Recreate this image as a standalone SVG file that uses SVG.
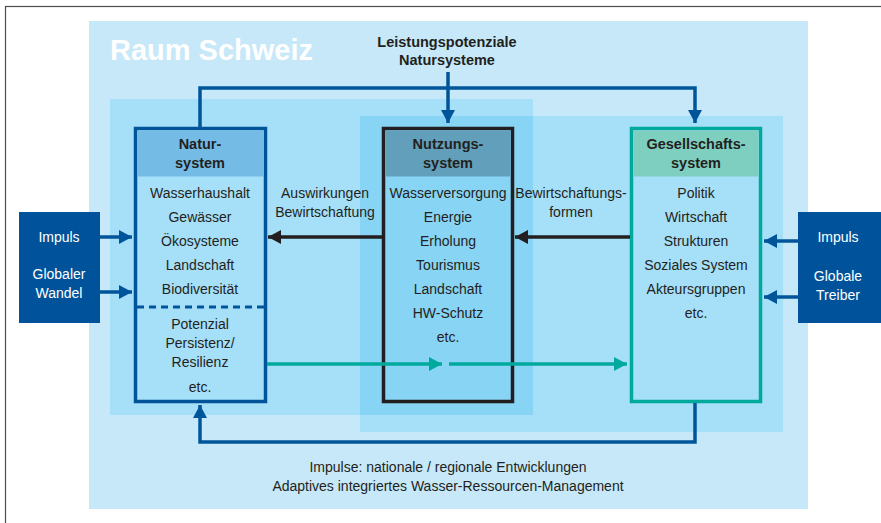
<svg xmlns="http://www.w3.org/2000/svg" width="881" height="523" viewBox="0 0 881 523">
<style>
.t{font-family:"Liberation Sans",Arial,sans-serif;font-size:14px;fill:#231f20;text-anchor:middle}
.h{font-family:"Liberation Sans",Arial,sans-serif;font-size:14.5px;font-weight:bold;fill:#231f20;text-anchor:middle}
.w{font-family:"Liberation Sans",Arial,sans-serif;font-size:14px;fill:#ffffff;text-anchor:middle}
.blue{stroke:#00559a;stroke-width:3.5;fill:none}
.blk{stroke:#231f20;stroke-width:3.5;fill:none}
.teal{stroke:#00a99d;stroke-width:3.5;fill:none}
</style>
<defs>
<marker id="ab" markerUnits="userSpaceOnUse" markerWidth="14" markerHeight="14" refX="13" refY="7" orient="auto"><path d="M0,0 L13,7 L0,14 Z" fill="#00559a"/></marker>
<marker id="ak" markerUnits="userSpaceOnUse" markerWidth="14" markerHeight="14" refX="13" refY="7" orient="auto"><path d="M0,0 L13,7 L0,14 Z" fill="#231f20"/></marker>
<marker id="at" markerUnits="userSpaceOnUse" markerWidth="14" markerHeight="14" refX="13" refY="7" orient="auto"><path d="M0,0 L13,7 L0,14 Z" fill="#00a99d"/></marker>
</defs>
<rect x="0" y="0" width="881" height="523" fill="#ffffff"/>
<rect x="5.5" y="6.5" width="880" height="520" fill="none" stroke="#4d4d4d" stroke-width="1.2"/>
<g id="background">
<rect x="89" y="21" width="719" height="488" fill="#c6e8f8"/>
<rect x="110" y="99" width="423" height="316" fill="#a6dff8"/>
<rect x="360" y="116" width="423" height="316" fill="#a6dff8"/>
<rect x="360" y="116" width="173" height="299" fill="#88d4f5"/>
<text x="110" y="60" font-family="Liberation Sans,Arial,sans-serif" font-size="29" font-weight="bold" fill="#ffffff" textLength="203" lengthAdjust="spacingAndGlyphs">Raum Schweiz</text>
</g>
<g id="label-top">
<text class="h" x="447" y="47">Leistungspotenziale</text>
<text class="h" x="447" y="65">Natursysteme</text>
</g>
<g id="label-bottom">
<text class="t" x="448" y="472">Impulse: nationale / regionale Entwicklungen</text>
<text class="t" x="448" y="491">Adaptives integriertes Wasser-Ressourcen-Management</text>
</g>
<g id="impuls-left">
<rect x="19" y="212" width="81" height="111" fill="#00539a"/>
<text class="w" x="59" y="242">Impuls</text>
<text class="w" x="59" y="279">Globaler</text>
<text class="w" x="59" y="298">Wandel</text>
</g>
<g id="impuls-right">
<rect x="798" y="212" width="83" height="111" fill="#00539a"/>
<text class="w" x="838" y="242">Impuls</text>
<text class="w" x="838" y="281">Globale</text>
<text class="w" x="838" y="300">Treiber</text>
</g>
<g id="natursystem">
<rect x="135.5" y="128.5" width="130" height="273" fill="#a6dff8" stroke="#00559a" stroke-width="3.5"/>
<rect x="137.5" y="130.5" width="126" height="46" fill="#74bce6"/>
<text class="h" x="200" y="149">Natur-</text>
<text class="h" x="200" y="168">system</text>
<text class="t" x="200" y="198">Wasserhaushalt</text>
<text class="t" x="200" y="222">Gewässer</text>
<text class="t" x="200" y="246">Ökosysteme</text>
<text class="t" x="200" y="270">Landschaft</text>
<text class="t" x="200" y="294">Biodiversität</text>
<line x1="137" y1="307" x2="264" y2="307" stroke="#00559a" stroke-width="3" stroke-dasharray="7,5"/>
<text class="t" x="200" y="329">Potenzial</text>
<text class="t" x="200" y="348">Persistenz/</text>
<text class="t" x="200" y="367">Resilienz</text>
<text class="t" x="200" y="392">etc.</text>
</g>
<g id="nutzungssystem">
<rect x="383.5" y="128.5" width="129" height="273" fill="#88d4f5" stroke="#231f20" stroke-width="3.5"/>
<rect x="385.5" y="130.5" width="125" height="46" fill="#629fba"/>
<text class="h" x="448" y="149">Nutzungs-</text>
<text class="h" x="448" y="168">system</text>
<text class="t" x="448" y="198">Wasserversorgung</text>
<text class="t" x="448" y="222">Energie</text>
<text class="t" x="448" y="246">Erholung</text>
<text class="t" x="448" y="270">Tourismus</text>
<text class="t" x="448" y="294">Landschaft</text>
<text class="t" x="448" y="318">HW-Schutz</text>
<text class="t" x="448" y="342">etc.</text>
</g>
<g id="gesellschaftssystem">
<rect x="631.5" y="128.5" width="129" height="273" fill="#a6dff8" stroke="#00a99d" stroke-width="3.5"/>
<rect x="633.5" y="130.5" width="125" height="46" fill="#7ecfc0"/>
<text class="h" x="696" y="149">Gesellschafts-</text>
<text class="h" x="696" y="168">system</text>
<text class="t" x="696" y="198">Politik</text>
<text class="t" x="696" y="222">Wirtschaft</text>
<text class="t" x="696" y="246">Strukturen</text>
<text class="t" x="696" y="270">Soziales System</text>
<text class="t" x="696" y="294">Akteursgruppen</text>
<text class="t" x="696" y="318">etc.</text>
</g>
<g id="connectors">
<polyline class="blue" points="200,127 200,88 695,88 695,123" marker-end="url(#ab)"/>
<line class="blue" x1="448" y1="72" x2="448" y2="123" marker-end="url(#ab)"/>
<polyline class="blue" points="695,403 695,442 200,442 200,405" marker-end="url(#ab)"/>
<line class="blk" x1="382" y1="237" x2="268" y2="237" marker-end="url(#ak)"/>
<line class="blk" x1="630" y1="237" x2="515" y2="237" marker-end="url(#ak)"/>
<line class="teal" x1="267" y1="364" x2="442" y2="364" marker-end="url(#at)"/>
<line class="teal" x1="449" y1="364" x2="627" y2="364" marker-end="url(#at)"/>
<line class="blue" x1="100" y1="237" x2="132" y2="237" marker-end="url(#ab)"/>
<line class="blue" x1="100" y1="292" x2="132" y2="292" marker-end="url(#ab)"/>
<line class="blue" x1="798" y1="241" x2="764" y2="241" marker-end="url(#ab)"/>
<line class="blue" x1="798" y1="297" x2="764" y2="297" marker-end="url(#ab)"/>
<text class="t" x="325" y="198">Auswirkungen</text>
<text class="t" x="325" y="217">Bewirtschaftung</text>
<text class="t" x="571" y="198">Bewirtschaftungs-</text>
<text class="t" x="571" y="217">formen</text>
</g>
</svg>
